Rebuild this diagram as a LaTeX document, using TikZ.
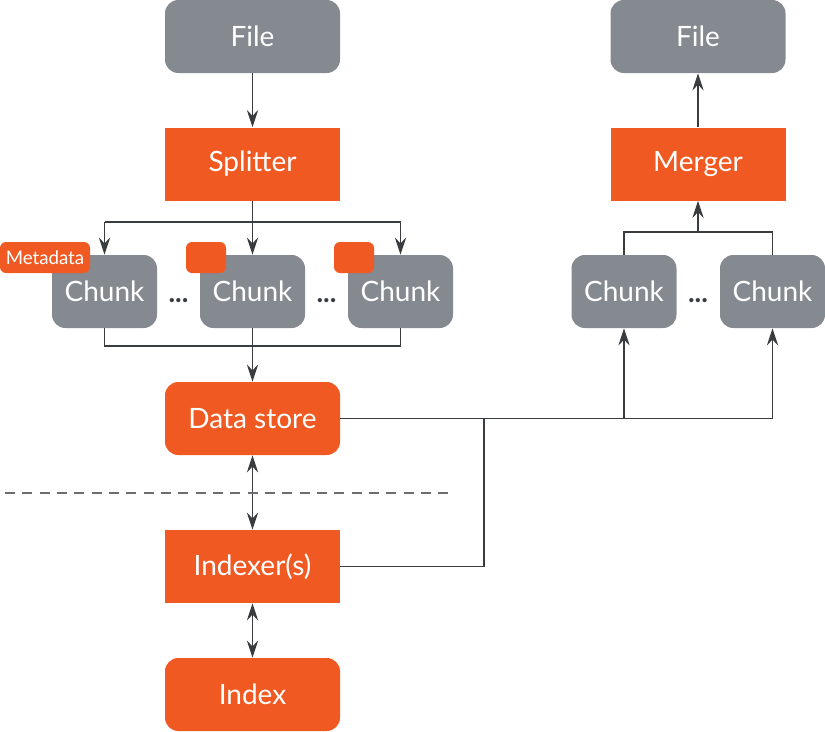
\documentclass[tikz,border=0pt]{standalone}
\usepackage{fontspec}
\setmainfont{Lato}
\usetikzlibrary{arrows.meta}
\definecolor{splitorange}{RGB}{240,90,34}
\definecolor{chunkgray}{RGB}{133,138,144}
\definecolor{wire}{RGB}{58,61,64}
\tikzset{
  box/.style={minimum width=131.25pt, minimum height=54.75pt, inner sep=0pt, text=white, font=\fontsize{21}{25}\selectfont},
  grayblock/.style={box, fill=chunkgray, rounded corners=10pt},
  orangeblock/.style={box, fill=splitorange},
  orangeround/.style={orangeblock, rounded corners=10pt},
  chunkblock/.style={grayblock, minimum width=78.75pt},
  tag/.style={fill=splitorange, rounded corners=4.5pt, minimum height=23.25pt, inner sep=0pt, text=white, font=\fontsize{14}{16}\selectfont},
  arr/.style={-{Stealth[length=13pt,width=8.5pt,inset=4.5pt]}},
  dblarr/.style={{Stealth[length=13pt,width=8.5pt,inset=4.5pt]}-{Stealth[length=13pt,width=8.5pt,inset=4.5pt]}},
  wiring/.style={draw=wire, line width=1pt}
}
\newcommand{\ellip}[1]{node[text=wire, font=\bfseries\fontsize{21}{25}\selectfont, anchor=base] (#1) {...}}
\begin{document}
\begin{tikzpicture}[x=0.75pt,y=-0.75pt]
\useasboundingbox (0,0) rectangle (825,732);

\node[grayblock] (filein) at (252.5,36.5) {File};
\node[orangeblock] (split) at (252.5,164) {Splitter};
\foreach \i/\x in {1/104.5,2/252.5,3/400.5}
  \node[chunkblock] (ch\i) at (\x,291.5) {Chunk};
\node[tag, minimum width=67.5pt] (meta) at (45,257.5) {Metadata};
\node[tag, minimum width=30pt] (tag2) at (206,257.5) {};
\node[tag, minimum width=30pt] (tag3) at (354,257.5) {};
\node[orangeround] (store) at (252.5,418.5) {Data store};
\node[orangeblock] (indexer) at (252.5,566.5) {Indexer(s)};
\node[orangeround] (index) at (252.5,694.5) {Index};

\node[grayblock] (fileout) at (698,36.5) {File};
\node[orangeblock] (merger) at (698,164) {Merger};
\node[chunkblock] (rc1) at (624,291.5) {Chunk};
\node[chunkblock] (rc2) at (772.5,291.5) {Chunk};

\path (178.5,302) \ellip{dots1} (326.5,302) \ellip{dots2} (698,302) \ellip{dots3};

\coordinate (sbus) at (252.5,222);
\coordinate (cbus) at (252.5,346);
\coordinate (mbus) at (698,232);
\coordinate (junct) at (484,418.5);

\draw[wiring, arr] (filein) -- (split);
\draw[wiring] (split.south) -- (sbus);
\draw[wiring] (ch1.north |- sbus) -- (ch3.north |- sbus);
\foreach \i in {1,2,3}
  \draw[wiring, arr] (ch\i.north |- sbus) -- (ch\i.north);
\draw[wiring] (ch1.south) -- (ch1.south |- cbus) -- (ch3.south |- cbus) -- (ch3.south);
\draw[wiring, arr] (ch2.south) -- (store.north);
\draw[wiring, dblarr] (store) -- (indexer);
\draw[wiring, dblarr] (indexer) -- (index);
\draw[wire!75, line width=1pt, dash pattern=on 7.5pt off 5.5pt] (5,493) -- (453,493);

\draw[wiring] (store.east) -- (rc2.south |- store.east);
\draw[wiring] (indexer.east) -| (junct);
\foreach \c in {rc1,rc2}
  \draw[wiring, arr] (\c.south |- store.east) -- (\c.south);
\draw[wiring] (rc1.north) -- (rc1.north |- mbus) -- (rc2.north |- mbus) -- (rc2.north);
\draw[wiring, arr] (mbus) -- (merger.south);
\draw[wiring, arr] (merger) -- (fileout);
\end{tikzpicture}
\end{document}
